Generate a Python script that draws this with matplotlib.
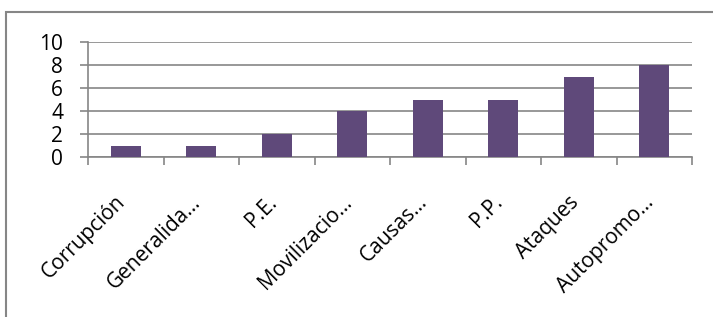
import matplotlib.pyplot as plt
from matplotlib.patches import Rectangle
from matplotlib.transforms import ScaledTranslation

categories = ["Corrupción", "Generalida…", "P.E.", "Movilizacio…", "Causas…",
              "P.P.", "Ataques", "Autopromo…"]
values = [1, 1, 2, 4, 5, 5, 7, 8]
yticks = [0, 2, 4, 6, 8, 10]

W, H = 713, 317
plt.rcParams['font.family'] = ['Open Sans', 'DejaVu Sans']
fig = plt.figure(figsize=(W / 100, H / 100), dpi=100)

# outer chart frame (cut off at right and bottom)
fig.patches.append(Rectangle((6 / W, -0.1), 1.2, 1 - 12 / H + 0.1,
                             transform=fig.transFigure, fill=False,
                             edgecolor='#868686', linewidth=1.5))

ax = fig.add_axes([88 / W, 1 - 157 / H, (692 - 88) / W, (157 - 42) / H])
x = range(len(categories))
ax.bar(x, values, width=0.4, color='#5F497A', zorder=3)
ax.set_xlim(-0.5, len(categories) - 0.5)
ax.set_ylim(0, 10)
ax.set_yticks(yticks)
ax.tick_params(axis='y', length=6, width=1.2, color='#868686', labelsize=15, pad=12)
ax.set_xticks([i - 0.5 for i in range(len(categories) + 1)], minor=True)
ax.tick_params(axis='x', which='minor', length=6, width=1.2, color='#868686')
ax.set_xticks(list(x))
ax.tick_params(axis='x', which='major', length=0, pad=25)
ax.set_xticklabels(categories, rotation=45, ha='right', va='top', fontsize=15)
shift = ScaledTranslation(4 / 100, 0, fig.dpi_scale_trans)
for lab in ax.get_xticklabels():
    lab.set_transform(lab.get_transform() + shift)
ax.grid(axis='y', color='#868686', linewidth=1.2, zorder=0)
for s in ['top', 'right']:
    ax.spines[s].set_visible(False)
for s in ['left', 'bottom']:
    ax.spines[s].set_color('#868686')
    ax.spines[s].set_linewidth(1.2)

fig.savefig('out.png', dpi=100)
